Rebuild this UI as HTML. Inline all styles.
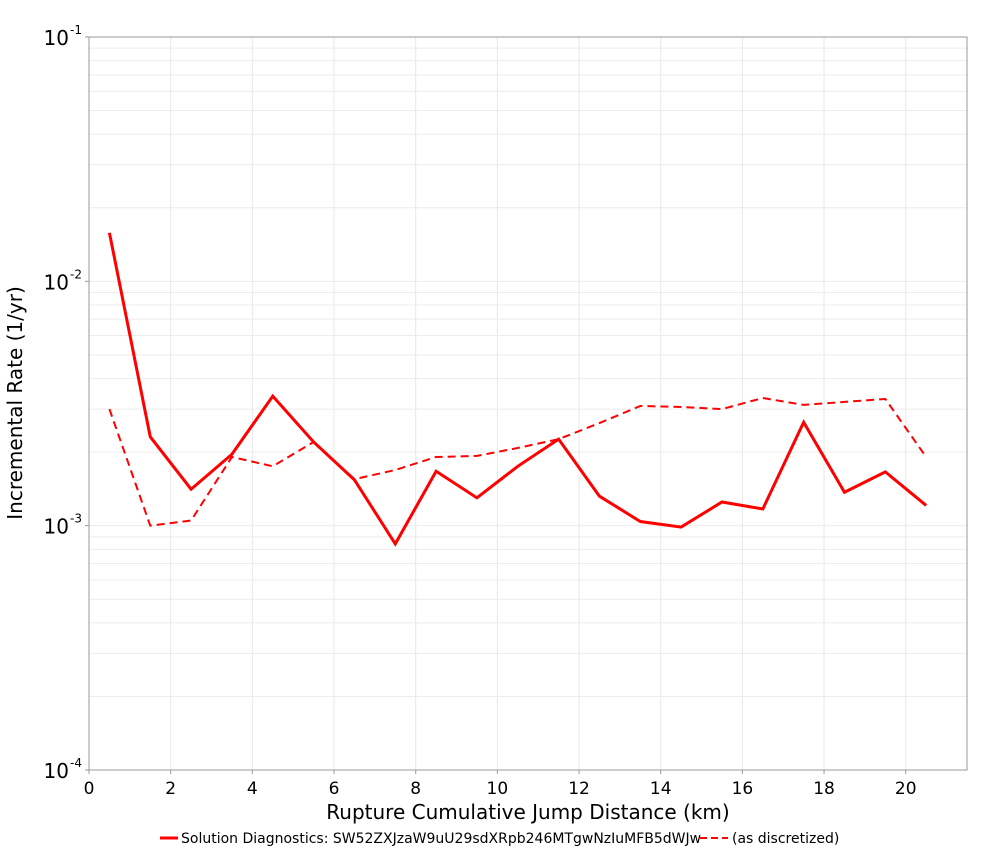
<!DOCTYPE html>
<html><head><meta charset="utf-8"><style>
body{margin:0;background:#fff;font-family:"Liberation Sans","DejaVu Sans",sans-serif}
</style></head><body>
<svg id="chart" width="1000" height="850" xmlns="http://www.w3.org/2000/svg" font-family="DejaVu Sans, Liberation Sans, sans-serif">
<rect width="1000" height="850" fill="#fff"/>
<g id="grid"></g>
<rect x="89" y="37" width="878" height="733" fill="none" stroke="#999" stroke-width="1"/>
<g id="ticks"></g>
<g id="series"></g>
<text x="528" y="819" font-size="20" text-anchor="middle">Rupture Cumulative Jump Distance (km)</text>
<text x="22" y="403" font-size="20" text-anchor="middle" transform="rotate(-90 22 403)">Incremental Rate (1/yr)</text>
<g font-size="14">
<line x1="160" y1="838" x2="178" y2="838" stroke="#f00" stroke-width="3"/>
<text x="181" y="843">Solution Diagnostics: SW52ZXJzaW9uU29sdXRpb246MTgwNzIuMFB5dWJw</text>
<line x1="700" y1="838" x2="728" y2="838" stroke="#f00" stroke-width="2" stroke-dasharray="7,4"/>
<text x="732" y="843">(as discretized)</text>
</g>
</svg>
<script>
const xCats=[0.5,1.5,2.5,3.5,4.5,5.5,6.5,7.5,8.5,9.5,10.5,11.5,12.5,13.5,14.5,15.5,16.5,17.5,18.5,19.5,20.5];
const solidRates=[0.0158,0.00231,0.00141,0.00196,0.00339,0.00220,0.00154,0.000842,0.00167,0.00130,0.00175,0.00226,0.00132,0.00104,0.000987,0.00125,0.00117,0.00265,0.00137,0.00166,0.00121];
const dashedRates=[0.00300,0.00100,0.00105,0.00191,0.00175,0.00220,0.00155,0.00169,0.00191,0.00193,0.00208,0.00226,0.00263,0.00309,0.00306,0.00300,0.00333,0.00312,0.00321,0.00330,0.00191];
const xTicks=[0,2,4,6,8,10,12,14,16,18,20];
const yExps=[-4,-3,-2,-1];
const NS="http://www.w3.org/2000/svg";
const L=89,R=967,T=37,B=770,XMAX=21.5;
const xs=v=>L+v/XMAX*(R-L);
const ys=v=>B-(Math.log10(v)+4)/3*(B-T);
function mk(tag,attrs,parent){const e=document.createElementNS(NS,tag);for(const k in attrs)e.setAttribute(k,attrs[k]);parent.appendChild(e);return e;}
const grid=document.getElementById('grid'),ticks=document.getElementById('ticks'),series=document.getElementById('series');
for(const t of xTicks){
 const g=mk('line',{x1:xs(t),x2:xs(t),y1:T,y2:B,stroke:'#e8e8e8'},grid);
 
 
 const tk=mk('line',{x1:xs(t),x2:xs(t),y1:B,y2:B+4,stroke:'#999'},ticks);
 
 
 const tx=mk('text',{x:xs(t),y:B+24,'font-size':17,'text-anchor':'middle'},ticks);
 
 
 tx.textContent=t;
}
for(let e=-4;e<-1;e++)for(let m=1;m<10;m++){
 const v=m*Math.pow(10,e);
 const g=mk('line',{x1:L,x2:R,y1:ys(v),y2:ys(v),stroke:'#ececec'},grid);
 
 
}
for(const e of yExps){
 const y=ys(Math.pow(10,e));
 const tk=mk('line',{x1:L-4,x2:L,y1:y,y2:y,stroke:'#999'},ticks);
 
 
 const tx=mk('text',{x:L-20,y:y+8,'font-size':20,'text-anchor':'end'},ticks);
 
 
 tx.textContent='10';
 const sup=mk('text',{x:L-19,y:y-3,'font-size':12,'text-anchor':'start'},ticks);
 
 
 sup.textContent=e;
}
function line(vals,dash,w,name){
 const p=mk('polyline',{points:vals.map((v,i)=>xs(xCats[i])+','+ys(v)).join(' '),fill:'none',stroke:'#f00','stroke-width':w},series);
 if(dash)p.setAttribute('stroke-dasharray',dash);
 
 
}
line(dashedRates,'8,5',2,'series-as-discretized');
line(solidRates,null,3,'series-solution-diagnostics');
</script>
</body></html>
